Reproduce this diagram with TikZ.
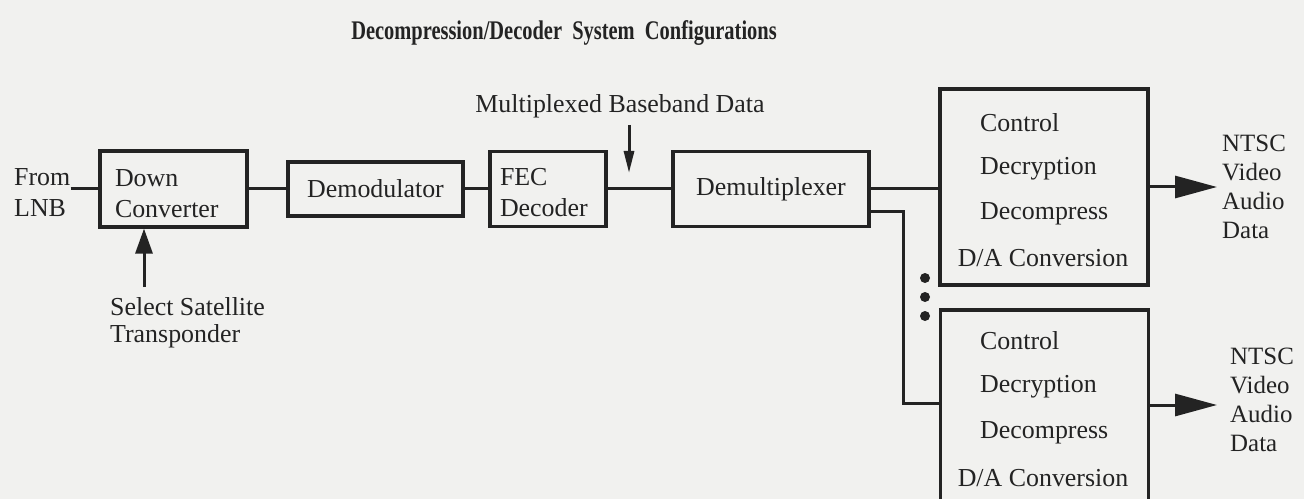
\documentclass[tikz,border=0pt]{standalone}
\usepackage{fontspec}
\setmainfont{Liberation Serif}
\usetikzlibrary{arrows.meta}
\definecolor{paper}{RGB}{241,241,239}
\definecolor{ink}{RGB}{35,35,35}
\begin{document}
\begin{tikzpicture}[x=1bp,y=-1bp,
  every node/.style={text=ink},
  txt/.style={inner sep=0pt,font=\fontsize{26}{31}\selectfont,align=left},
  ntsc/.style={inner sep=0pt,font=\fontsize{25}{29}\selectfont,align=left,anchor=west},
  blk/.style={draw=ink,line width=3.2bp,rectangle,inner sep=0pt,font=\fontsize{26}{31}\selectfont},
  wire/.style={draw=ink,line width=3bp},
  bigarrow/.style={wire,-{Triangle[length=42bp,width=22bp]}},
  selarrow/.style={wire,-{Triangle[length=25bp,width=17bp]}},
  thinarrow/.style={wire,-{Triangle[length=22bp,width=10bp]}}
]
\clip (0,0) rectangle (1304,499);
\fill[paper] (0,0) rectangle (1304,499);

% title
\node[inner sep=0pt] (title) at (564,33) {\scalebox{0.76}[1]{\fontsize{27}{27}\selectfont\bfseries Decompression/Decoder\ \ System\ \ Configurations}};

% chain boxes
\node[blk,minimum width=147bp,minimum height=76bp,text width=117bp,align=left] (dc) at (173.5,189) {\rule{0pt}{27bp}Down\\Converter};
\node[blk,minimum width=175bp,minimum height=54bp] (demod) at (375.5,189) {Demodulator};
\node[blk,minimum width=116bp,minimum height=75bp,text width=96bp,align=left] (fec) at (548,189) {\rule{0pt}{25bp}FEC\\Decoder};
\node[blk,minimum width=196bp,minimum height=75bp] (demux) at (771,189) {Demultiplexer};

% control boxes
\node[blk,minimum width=208bp,minimum height=196bp] (c1) at (1044,187) {};
\node[blk,minimum width=208bp,minimum height=210bp] (c2) at (1044.5,415) {};

\node[txt,anchor=west] (c1a) at (980,123) {Control};
\node[txt,anchor=west] (c1b) at (980,169) {Decryption};
\node[txt,anchor=west] (c1c) at (980,214) {Decompress};
\node[txt] (c1d) at (1043,258) {D/A Conversion};
\node[txt,anchor=west] (c2a) at (980,341) {Control};
\node[txt,anchor=west] (c2b) at (980,387) {Decryption};
\node[txt,anchor=west] (c2c) at (980,433) {Decompress};
\node[txt] (c2d) at (1043,478) {D/A Conversion};

% labels
\node[txt,anchor=west] (from) at (14,193) {From\\LNB};
\node[txt,anchor=west,font=\fontsize{26}{27}\selectfont] (sel) at (110,323) {Select Satellite\\Transponder};
\node[txt] (mb) at (620,106) {Multiplexed Baseband Data};
\node[ntsc] (n1) at (1222,187) {NTSC\\Video\\Audio\\Data};
\node[ntsc] (n2) at (1230,400) {NTSC\\Video\\Audio\\Data};

% coordinates
\coordinate (selbase) at (144,287);
\coordinate (mbtop) at (629,125);
\coordinate (mbtip) at (629,173);
\coordinate (bend) at (903,403);

% connectors
\draw[wire] (dc.west -| from.east) -- (dc.west);
\draw[wire] (dc.east) -- (demod.west);
\draw[wire] (demod.east) -- (fec.west);
\draw[wire] (fec.east) -- (demux.west);
\draw[selarrow] (selbase) -- (selbase |- dc.south);
\draw[thinarrow] (mbtop) -- (mbtip);
\draw[wire] (demux.east) -- (demux.east -| c1.west);
\draw[wire] ([yshift=-23bp]demux.east) -| (bend) -- (bend -| c2.west);
\draw[bigarrow,shorten >=5bp] (c1.east) -- (c1.east -| n1.west);
\draw[bigarrow,shorten >=13bp] ([yshift=10bp]c2.east) -- ([yshift=10bp]c2.east -| n2.west);

% dots
\fill[ink] (925,278) circle (5bp) (925,297) circle (5bp) (925,316) circle (5bp);
\end{tikzpicture}
\end{document}
